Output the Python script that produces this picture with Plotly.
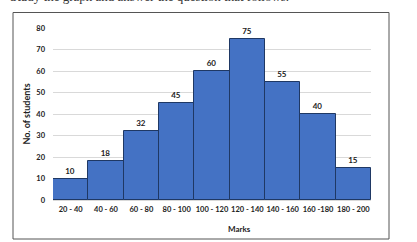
import plotly.graph_objects as go

categories = ["20 - 40", "40 - 60", "60 - 80", "80 - 100", "100 - 120",
              "120 - 140", "140 - 160", "160 -180", "180 - 200"]
students = [10, 18, 32, 45, 60, 75, 55, 40, 15]
y_ticks = [0, 10, 20, 30, 40, 50, 60, 70, 80]

W, H = 417, 242
L, R, T, B = 53, 46, 28, 42
ph = H - T - B
pw = W - L - R

def px_x(x):
    return (x - L) / pw

def px_y(y):
    return (H - B - y) / ph

fig = go.Figure(go.Bar(
    x=categories, y=students,
    marker=dict(color="#4472C4", line=dict(color="#1F3864", width=1)),
    text=[str(v) for v in students], textposition="outside",
    textfont=dict(family="Lato", size=8, color="#222222", weight="bold"),
    cliponaxis=False,
))

fig.update_layout(
    width=W, height=H,
    margin=dict(l=L, r=R, t=T, b=B),
    paper_bgcolor="white", plot_bgcolor="white",
    bargap=0, showlegend=False,
    xaxis=dict(showgrid=False, showline=False, ticks="",
               tickfont=dict(family="Lato", size=7.5, color="#222222", weight="bold"),
               ticklabelstandoff=3),
    yaxis=dict(range=[0, 80], tickvals=y_ticks, showgrid=True, gridcolor="#d9d9d9",
               gridwidth=1, zeroline=True, zerolinecolor="#d9d9d9", showline=False,
               tickfont=dict(family="Lato", size=7.5, color="#222222", weight="bold"),
               ticklabelstandoff=7,
               title=dict(text="No. of students", standoff=4,
                          font=dict(family="Lato", size=9, color="#222222", weight="bold"))),
    shapes=[dict(type="rect", xref="paper", yref="paper",
                 x0=px_x(13), x1=px_x(389), y0=px_y(239), y1=px_y(12.5),
                 line=dict(color="#555555", width=1), fillcolor="rgba(0,0,0,0)")],
    annotations=[
        dict(text="Marks", xref="paper", yref="paper", x=px_x(239), y=px_y(229),
             xanchor="center", yanchor="middle", showarrow=False,
             font=dict(family="Lato", size=8, color="#222222", weight="bold")),
        dict(text="Study the graph and answer the question that follows.",
             xref="paper", yref="paper", x=px_x(8), y=px_y(6),
             xanchor="left", yanchor="bottom", showarrow=False,
             font=dict(family="Liberation Serif", size=13, color="#333333")),
    ],
)

fig.write_html("out.html")
